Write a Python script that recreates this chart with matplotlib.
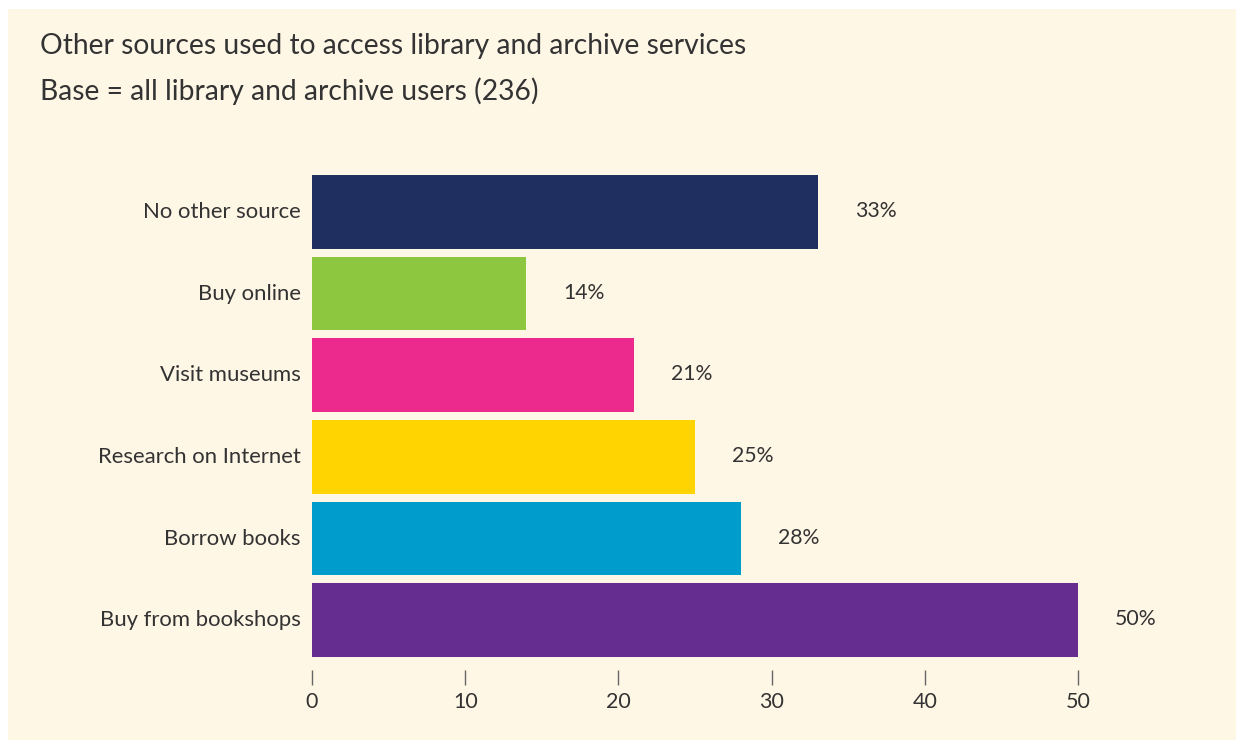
import matplotlib.pyplot as plt
from matplotlib.patches import Rectangle
from matplotlib.transforms import ScaledTranslation

plt.rcParams['font.family'] = ['Lato', 'DejaVu Sans']

# data, top to bottom
categories = ['No other source', 'Buy online', 'Visit museums',
              'Research on Internet', 'Borrow books', 'Buy from bookshops']
values = [33, 14, 21, 25, 28, 50]
colors = ['#1f2f5f', '#8dc63f', '#ec2a8e', '#ffd400', '#009ccb', '#662d91']
xticks = [0, 10, 20, 30, 40, 50]

title = 'Other sources used to access library and archive services'
subtitle = 'Base = all library and archive users (236)'

bg = '#fff7e6'
text_col = '#333333'

W, H = 1236, 740
fig = plt.figure(figsize=(W / 100, H / 100), dpi=100)
fig.patch.set_facecolor('white')
# cream panel
fig.patches.append(Rectangle((8 / W, 0), 1 - 8 / W, 1 - 9 / H, transform=fig.transFigure,
                             facecolor=bg, edgecolor='none', zorder=-5))

fig.text(40 / W, 1 - 46 / H, title, fontsize=20.3, color=text_col, va='center', ha='left')
fig.text(40 / W, 1 - 91 / H, subtitle, fontsize=20.3, color=text_col, va='center', ha='left')

# axes: x 312..1078 px, y 171..670 px
ax = fig.add_axes([312 / W, 1 - 670 / H, (1078 - 312) / W, (670 - 171) / H])
ax.set_zorder(2)
ax.set_facecolor('none')
y = list(range(len(categories)))
ax.barh(y, values, height=0.9, color=colors)
ax.set_xlim(0, 50)
ax.set_ylim(5.61, -0.5)

for yi, v in zip(y, values):
    ax.annotate(f'{v}%', (v, yi), xytext=(37, 1), textcoords='offset pixels',
                ha='left', va='center', fontsize=15.3, color=text_col)

ax.set_yticks(y)
ax.set_yticklabels(categories, fontsize=15.9, color=text_col)
shift = ScaledTranslation(0, 2 / 100, fig.dpi_scale_trans)
for lbl in ax.get_yticklabels():
    lbl.set_verticalalignment('center')
    lbl.set_transform(lbl.get_transform() + shift)
ax.tick_params(axis='y', length=0, pad=8)
ax.set_xticks(xticks)
ax.set_xticklabels([str(t) for t in xticks], fontsize=15.5, color=text_col)
ax.tick_params(axis='x', direction='out', length=11, width=1, color='#666666', pad=5)
for s in ax.spines.values():
    s.set_visible(False)

fig.savefig('out.png', dpi=100, facecolor=fig.get_facecolor())
